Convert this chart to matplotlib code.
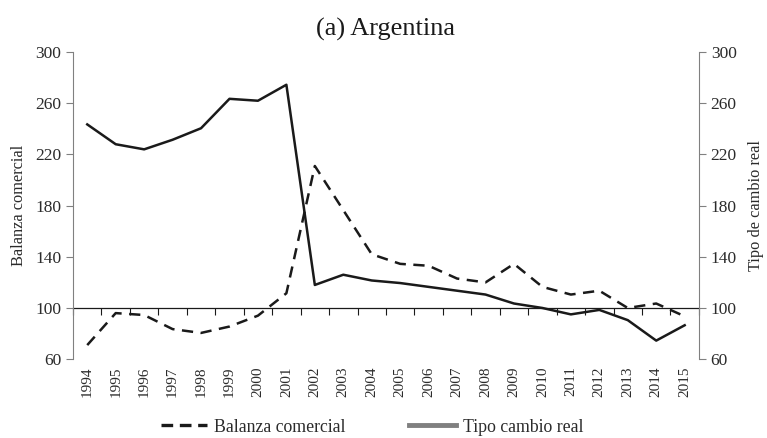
import matplotlib.pyplot as plt
from matplotlib.lines import Line2D

plt.rcParams['font.family'] = ['Liberation Serif', 'DejaVu Serif']

# datos
anios = [str(a) for a in range(1994, 2016)]
balanza = [71, 96, 94.5, 83.5, 80.5, 85.5, 94, 111.5, 211, 176.5, 142, 134.5,
           133, 123, 120, 134.5, 116.5, 110.5, 113.5, 100, 103.5, 93.5]
tipo_cambio = [243.5, 228, 224, 231.5, 240.5, 263.5, 262, 274.5, 118, 126, 121.5, 119.5,
               116.5, 113.5, 110.5, 103.5, 100, 95, 98.5, 90.5, 74.5, 86.5]
yticks = [60, 100, 140, 180, 220, 260, 300]

gris = '#808080'
texto = '#2b2b2b'

fig = plt.figure(figsize=(7.67, 4.38), dpi=100)
ax = fig.add_axes([0.0952, 0.180, 0.816, 0.701])
ax2 = ax.twinx()

x = list(range(len(anios)))
ax.plot(x, balanza, color='#1a1a1a', lw=1.8, linestyle=(0, (4.5, 3)))
ax2.plot(x, tipo_cambio, color='#1a1a1a', lw=1.8)

for a in (ax, ax2):
    a.set_ylim(60, 300)
    a.set_yticks(yticks)
    a.set_xlim(-0.5, len(anios) - 0.5)
    for s in a.spines.values():
        s.set_visible(False)

ax.spines['left'].set_visible(True)
ax.spines['left'].set_color(gris)
ax2.spines['right'].set_visible(True)
ax2.spines['right'].set_color(gris)

ax.tick_params(axis='y', colors=gris, labelcolor=texto, labelsize=12.5, length=5, width=0.8)
ax2.tick_params(axis='y', colors=gris, labelcolor=texto, labelsize=12.5, length=5, width=0.8)

# etiquetas de años abajo
ax.set_xticks(x)
ax.set_xticklabels(anios, rotation=90, fontsize=11, color=texto)
ax.tick_params(axis='x', length=0, pad=5)

# eje en 100 con marcas entre categorías
sec = ax.secondary_xaxis((100 - 60) / 240)
sec.set_xticks([i + 0.5 for i in range(-1, len(anios))])
sec.set_xticklabels([])
sec.tick_params(axis='x', length=5, width=0.8, colors='#1a1a1a')
sec.spines['bottom'].set_color('#1a1a1a')
sec.spines['bottom'].set_linewidth(0.9)

ax.set_ylabel('Balanza comercial', fontsize=11.8, color=texto, labelpad=6)
ax2.set_ylabel('Tipo de cambio real', fontsize=11.8, color=texto, labelpad=8)
ax.set_title('(a) Argentina', fontsize=19, color='#1a1a1a', pad=12)

h1 = Line2D([], [], color='#1a1a1a', lw=2.4, linestyle=(0, (3.5, 2)))
h2 = Line2D([], [], color=gris, lw=3.5)
fig.legend([h1, h2], ['Balanza comercial', 'Tipo cambio real'], loc='center',
           bbox_to_anchor=(0.485, 0.025), ncol=2, frameon=False, fontsize=12.8,
           handlelength=2.6, columnspacing=3.6, handletextpad=0.4, labelcolor=texto)

fig.savefig('out.png', dpi=100)
